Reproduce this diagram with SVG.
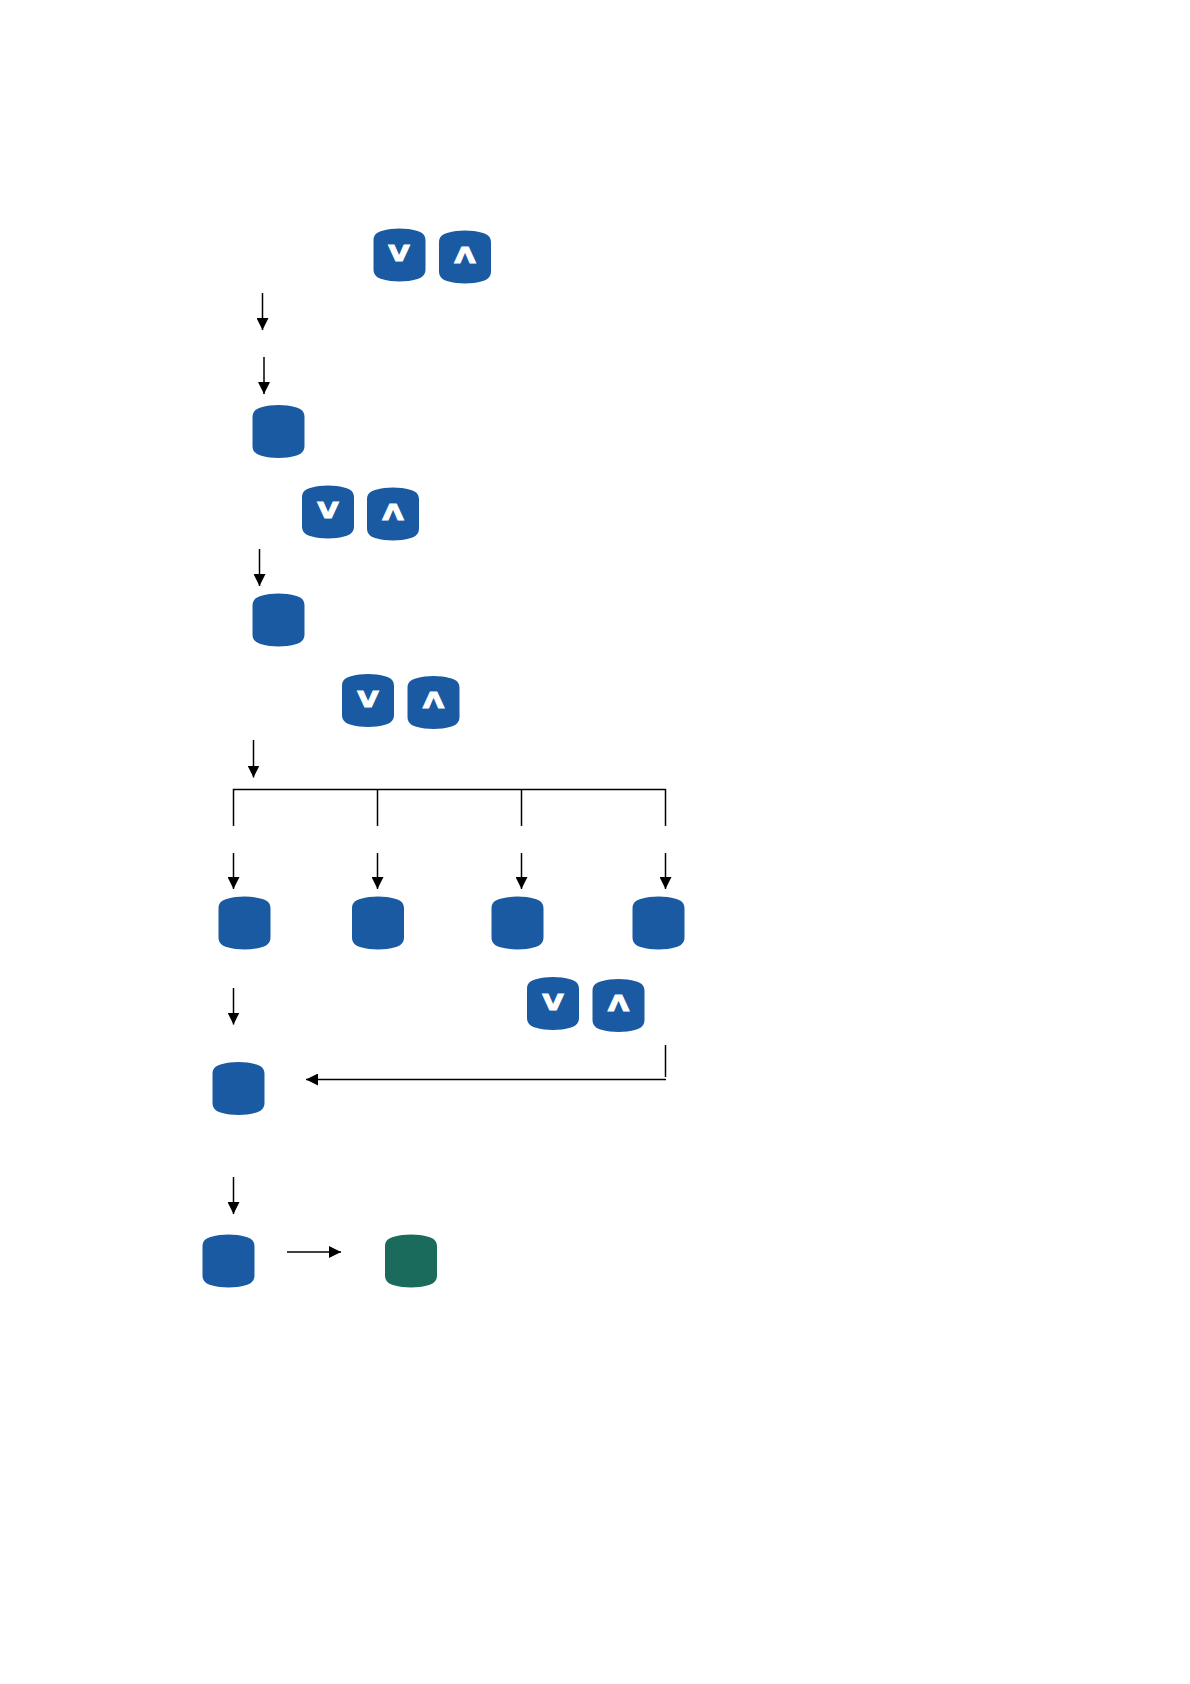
<svg xmlns="http://www.w3.org/2000/svg" width="1190" height="1684" viewBox="0 0 1190 1684">
<style>
.k{fill:#1a5aa2}
.g{fill:#1a6b5c}
.l{fill:none;stroke:#000;stroke-width:1.5}
.a{fill:none;stroke:#000;stroke-width:1.5;marker-end:url(#ah)}
.t{font-family:"DejaVu Sans",sans-serif;font-weight:bold;font-size:21px;fill:#fff;stroke:#fff;stroke-width:1.100;text-anchor:middle}
</style>
<defs>
<marker id="ah" markerUnits="userSpaceOnUse" markerWidth="12" markerHeight="12" refX="12" refY="6" orient="auto"><path d="M0 0L12 6L0 12Z" fill="#000"/></marker>
<path id="b" d="M0 12C0 6 4 3.600 9 2.300C19 -.7 33 -.7 43 2.300C48 3.600 52 6 52 12V41C52 47 48 49.400 43 50.700C33 53.700 19 53.700 9 50.700C4 49.400 0 47 0 41Z"/>
</defs>
<g id="connectors">
<path class="a" d="M262.500 293V330"/>
<path class="a" d="M264 357V394"/>
<path class="a" d="M259.500 549V586"/>
<path class="a" d="M253.500 740V777.500"/>
<path class="l" d="M233.500 826V789.500H665.500V826M377.500 789.500V826M521.500 789.500V826"/>
<path class="a" d="M233.500 853V889"/>
<path class="a" d="M377.500 853V889"/>
<path class="a" d="M521.500 853V889"/>
<path class="a" d="M665.500 853V889"/>
<path class="a" d="M233.500 988V1024.500"/>
<path class="l" d="M665.500 1045V1077"/>
<path class="a" d="M666 1079.500H306"/>
<path class="a" d="M233.500 1177V1214"/>
<path class="a" d="M287 1252H341"/>
</g>
<g id="btn-v1"><use href="#b" class="k" x="373.500" y="228.500"/><text class="t" x="399" y="261" textLength="21" lengthAdjust="spacingAndGlyphs">V</text></g>
<g id="btn-a1"><use href="#b" class="k" x="439" y="230.500"/><text class="t" x="465" y="262.500" textLength="21" lengthAdjust="spacingAndGlyphs">Λ</text></g>
<g id="node1"><use href="#b" class="k" x="252.500" y="405"/></g>
<g id="btn-v2"><use href="#b" class="k" x="302" y="485.500"/><text class="t" x="328" y="518" textLength="21" lengthAdjust="spacingAndGlyphs">V</text></g>
<g id="btn-a2"><use href="#b" class="k" x="367" y="487.500"/><text class="t" x="393" y="519.500" textLength="21" lengthAdjust="spacingAndGlyphs">Λ</text></g>
<g id="node2"><use href="#b" class="k" x="252.500" y="593.500"/></g>
<g id="btn-v3"><use href="#b" class="k" x="342" y="674"/><text class="t" x="368" y="706.500" textLength="21" lengthAdjust="spacingAndGlyphs">V</text></g>
<g id="btn-a3"><use href="#b" class="k" x="407.500" y="676"/><text class="t" x="433.500" y="708" textLength="21" lengthAdjust="spacingAndGlyphs">Λ</text></g>
<g id="node3"><use href="#b" class="k" x="218.500" y="896.500"/></g>
<g id="node4"><use href="#b" class="k" x="352" y="896.500"/></g>
<g id="node5"><use href="#b" class="k" x="491.500" y="896.500"/></g>
<g id="node6"><use href="#b" class="k" x="632.500" y="896.500"/></g>
<g id="btn-v4"><use href="#b" class="k" x="527" y="977"/><text class="t" x="553" y="1009.500" textLength="21" lengthAdjust="spacingAndGlyphs">V</text></g>
<g id="btn-a4"><use href="#b" class="k" x="592.500" y="979"/><text class="t" x="618.500" y="1011" textLength="21" lengthAdjust="spacingAndGlyphs">Λ</text></g>
<g id="node7"><use href="#b" class="k" x="212.500" y="1062"/></g>
<g id="node8"><use href="#b" class="k" x="202.500" y="1234.500"/></g>
<g id="node9"><use href="#b" class="g" x="385" y="1234.500"/></g>
</svg>
